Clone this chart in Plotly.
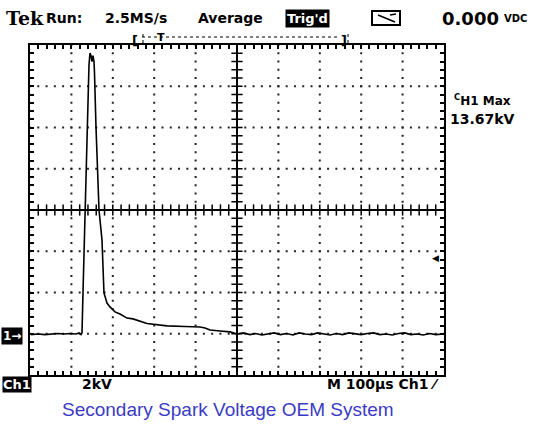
import numpy as np
import plotly.graph_objects as go

# ---- data: Channel 1 secondary spark voltage (time in µs from left of screen, kV) ----
time_us = [2.4, 19.3, 36.2, 53.1, 67.6, 82.1, 96.6, 111.1, 118.4, 123.2,
           125.6, 128.0, 132.9, 137.7, 140.1, 142.5, 144.9, 147.3, 149.8, 152.2,
           154.6, 155.8, 159.4, 166.7, 173.9, 176.3, 178.7, 186.0, 193.2, 205.3,
           217.4, 234.3, 248.8, 282.6, 314.0, 330.9, 374.4, 410.6, 422.7, 434.8,
           458.9, 483.1, 500.0, 515.0, 531.4, 545.0, 560.0, 575.0, 590.0, 605.0,
           620.0, 635.0, 650.0, 665.0, 680.0, 695.0, 710.0, 725.0, 740.0, 755.0,
           770.0, 785.0, 800.0, 815.0, 830.0, 845.0, 860.0, 875.0, 890.0, 905.0,
           920.0, 935.0, 950.0, 965.0, 980.0, 998.0]
voltage_kv = [0.02, 0.05, 0.02, 0.05, 0.07, 0.05, 0.07, 0.05, 0.10, 0.02,
              0.10, 2.04, 6.06, 10.08, 12.22, 13.10, 13.67, 13.55, 13.25, 13.55,
              13.25, 12.70, 10.08, 6.06, 4.61, 3.01, 2.04, 1.55, 1.36, 1.12,
              1.02, 0.82, 0.78, 0.56, 0.46, 0.44, 0.41, 0.39, 0.34, 0.24,
              0.19, 0.15, 0.05, 0.10, 0.02, 0.07, 0.00, 0.05, 0.10, 0.02,
              0.07, 0.00, 0.10, 0.05, 0.02, 0.10, 0.05, 0.00, 0.07, 0.02,
              0.10, 0.05, 0.02, 0.07, 0.10, 0.02, 0.05, 0.00, 0.07, 0.10,
              0.02, 0.05, 0.00, 0.07, 0.02, 0.05]

volts_per_div = 2.0      # kV/div
time_per_div = 100.0     # µs/div
x_range = [0, 10 * time_per_div]
y_range = [-1.94, -1.94 + 8 * volts_per_div]
x_center = 5 * time_per_div
y_center = y_range[0] + 4 * volts_per_div

# plot box in window pixels
FW, FH = 537, 428
L, R, T, B = 30, 444, 45, 375
W, H = R - L, B - T
def px(x):
    return (x - L) / W
def py(y):
    return (B - y) / H

fig = go.Figure()

# dotted graticule
gx, gy = [], []
for i in range(1, 10):
    xv = x_range[0] + i * time_per_div
    if abs(xv - x_center) < 1e-9:
        continue
    for yv in np.arange(y_range[0], y_range[1] + 1e-6, volts_per_div / 5):
        gx.append(xv); gy.append(yv)
for j in range(1, 8):
    yv = y_range[0] + j * volts_per_div
    if abs(yv - y_center) < 1e-9:
        continue
    for xv in np.arange(x_range[0], x_range[1] + 1e-6, time_per_div / 5):
        gx.append(xv); gy.append(yv)
fig.add_trace(go.Scatter(x=gx, y=gy, mode="markers",
                         marker=dict(symbol="square", size=2, color="#222"),
                         hoverinfo="skip", showlegend=False))

# center cross-hair with tick marks
fig.add_shape(type="line", x0=x_range[0], x1=x_range[1], y0=y_center, y1=y_center,
              line=dict(color="black", width=2))
fig.add_shape(type="line", x0=x_center, x1=x_center, y0=y_range[0], y1=y_range[1],
              line=dict(color="black", width=2))
hx = np.arange(x_range[0] + time_per_div / 5, x_range[1], time_per_div / 5)
fig.add_trace(go.Scatter(x=hx, y=[y_center] * len(hx), mode="markers",
                         marker=dict(symbol="line-ns", size=8, line=dict(width=1.5, color="black")),
                         hoverinfo="skip", showlegend=False))
vy = np.arange(y_range[0] + volts_per_div / 5, y_range[1], volts_per_div / 5)
fig.add_trace(go.Scatter(x=[x_center] * len(vy), y=vy, mode="markers",
                         marker=dict(symbol="line-ew", size=8, line=dict(width=1.5, color="black")),
                         hoverinfo="skip", showlegend=False))

# waveform
fig.add_trace(go.Scatter(x=time_us, y=voltage_kv, mode="lines",
                         line=dict(color="black", width=1.6), showlegend=False))

axis_common = dict(showgrid=False, zeroline=False, showticklabels=False,
                   showline=True, linecolor="black", linewidth=2, mirror="ticks",
                   ticks="inside", ticklen=4, tickwidth=1.5, tickcolor="black")
fig.update_xaxes(range=x_range, tick0=0, dtick=time_per_div / 5, **axis_common)
fig.update_yaxes(range=y_range, tick0=y_range[0], dtick=volts_per_div / 5, **axis_common)

ann = []
def text(x, y, s, size=14, color="black", family="DejaVu Sans", xanchor="left", bg=None, pad=0):
    d = dict(x=px(x), y=py(y), xref="paper", yref="paper", text=s, showarrow=False,
             xanchor=xanchor, yanchor="middle", font=dict(size=size, color=color, family=family))
    if bg:
        d.update(bgcolor=bg, borderpad=pad)
    ann.append(d)

text(4, 18, "<b>Tek</b>", size=19, family="DejaVu Serif")
text(44, 18, "<b>Run:</b>", size=14)
text(103, 18, "<b>2.5MS/s</b>", size=14)
text(196, 18, "<b>Average</b>", size=14)
text(285, 18, "<b>Trig'd</b>", size=13, color="white", bg="black", pad=1)
text(440, 18, "<b>0.000</b>", size=18)
text(502, 19, "<b>VDC</b>", size=10)
text(452, 100, "<b><sup>C</sup>H1 Max</b>", size=12)
text(448, 119, "<b>13.67kV</b>", size=14)
text(1, 336, "<b>1→</b>", size=12, color="white", bg="black", pad=1)
text(2, 384, "<b>Ch1</b>", size=13, color="white", bg="black", pad=0)
text(80, 384, "<b>2kV</b>", size=14)
text(441, 384, "<b>M 100µs Ch1 ⁄</b>", size=14, xanchor="right")
text(435, 258, "◀", size=9, xanchor="center")
text(228, 410, "Secondary Spark Voltage OEM System", size=19,
     color="#3b3bc4", family="Liberation Sans", xanchor="center")

# record-position bar on top
text(135, 40, "<b>[</b>", size=13, xanchor="center")
text(161, 38, "<b>T</b>", size=11, xanchor="center")
text(344, 40, "<b>]</b>", size=13, xanchor="center")

shapes = [
    dict(type="line", xref="paper", yref="paper", x0=px(142), x1=px(340), y0=py(37), y1=py(37),
         line=dict(color="black", width=1, dash="dot")),
    dict(type="line", xref="paper", yref="paper", x0=px(143), x1=px(143), y0=py(34), y1=py(45),
         line=dict(color="black", width=1, dash="dot")),
    dict(type="line", xref="paper", yref="paper", x0=px(348), x1=px(348), y0=py(34), y1=py(45),
         line=dict(color="black", width=1, dash="dot")),
    # meter icon
    dict(type="rect", xref="paper", yref="paper", x0=px(372), x1=px(400), y0=py(11), y1=py(25),
         line=dict(color="black", width=2)),
    dict(type="line", xref="paper", yref="paper", x0=px(378), x1=px(395), y0=py(15), y1=py(22),
         line=dict(color="black", width=1.5)),
    dict(type="line", xref="paper", yref="paper", x0=px(390), x1=px(396), y0=py(15), y1=py(14),
         line=dict(color="black", width=1.5)),
]
for s in shapes:
    fig.add_shape(**s)

fig.update_layout(width=FW, height=FH,
                  margin=dict(l=L, r=FW - R, t=T, b=FH - B),
                  paper_bgcolor="white", plot_bgcolor="white",
                  annotations=ann, showlegend=False)

# remove the default page margin so the figure fills the window exactly
fig.write_html("out.html", config={"displayModeBar": False},
               post_script="document.body.style.margin='0px';document.body.style.overflow='hidden';")
